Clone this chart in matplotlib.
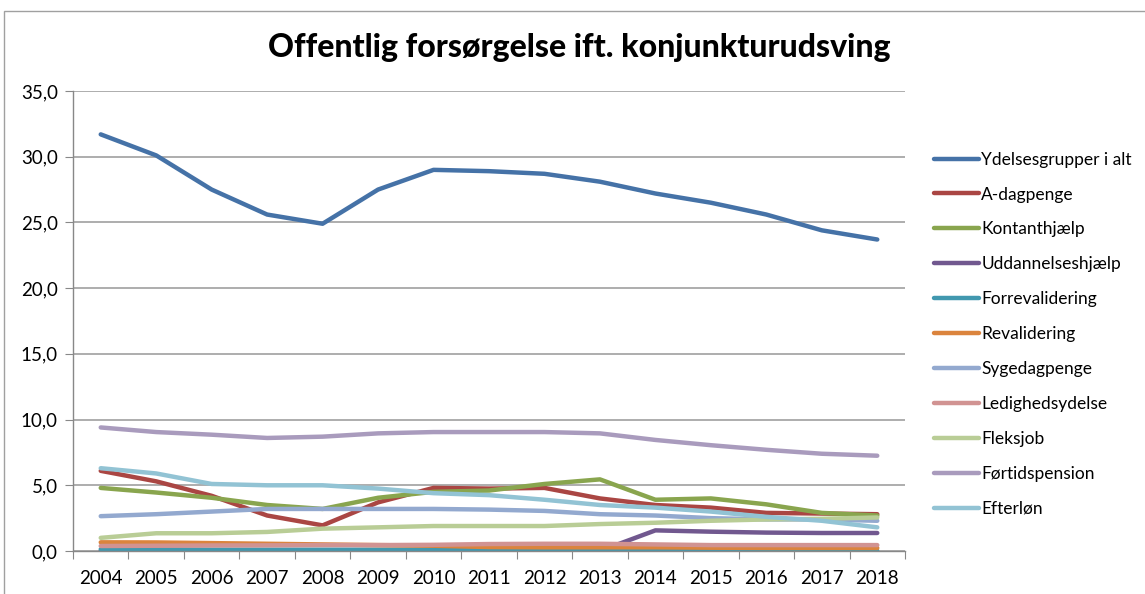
import matplotlib
matplotlib.use("Agg")
import matplotlib.pyplot as plt
from matplotlib.ticker import FuncFormatter, MultipleLocator
from matplotlib.patches import Rectangle

years = [2004, 2005, 2006, 2007, 2008, 2009, 2010, 2011, 2012, 2013, 2014, 2015, 2016, 2017, 2018]

ydelsesgrupper = [31.7, 30.1, 27.5, 25.6, 24.9, 27.5, 29.0, 28.9, 28.7, 28.1, 27.2, 26.5, 25.6, 24.4, 23.7]
a_dagpenge = [6.1, 5.3, 4.2, 2.7, 1.95, 3.7, 4.8, 4.75, 4.8, 4.0, 3.5, 3.3, 2.9, 2.85, 2.8]
kontanthjaelp = [4.8, 4.45, 4.05, 3.5, 3.2, 4.05, 4.5, 4.6, 5.1, 5.45, 3.9, 4.0, 3.55, 2.9, 2.7]
uddannelseshjaelp = [0.0, 0.0, 0.0, 0.0, 0.0, 0.0, 0.0, 0.0, 0.0, 0.0, 1.57, 1.47, 1.4, 1.37, 1.37]
forrevalidering = [0.13, 0.12, 0.1, 0.1, 0.1, 0.1, 0.1, 0.1, 0.1, 0.1, 0.08, 0.03, 0.02, 0.02, 0.02]
revalidering = [0.66, 0.65, 0.6, 0.55, 0.5, 0.45, 0.4, 0.3, 0.28, 0.28, 0.28, 0.25, 0.23, 0.23, 0.23]
sygedagpenge = [2.65, 2.8, 3.0, 3.2, 3.2, 3.2, 3.2, 3.15, 3.05, 2.8, 2.7, 2.5, 2.4, 2.4, 2.3]
ledighedsydelse = [0.38, 0.4, 0.42, 0.43, 0.45, 0.45, 0.47, 0.53, 0.55, 0.55, 0.5, 0.45, 0.45, 0.45, 0.45]
fleksjob = [1.0, 1.35, 1.35, 1.45, 1.7, 1.8, 1.9, 1.9, 1.9, 2.05, 2.15, 2.3, 2.4, 2.45, 2.55]
foertidspension = [9.4, 9.05, 8.85, 8.6, 8.7, 8.95, 9.05, 9.05, 9.05, 8.95, 8.45, 8.05, 7.7, 7.4, 7.25]
efterloen = [6.3, 5.9, 5.1, 5.0, 5.0, 4.75, 4.4, 4.25, 3.9, 3.5, 3.3, 3.0, 2.6, 2.3, 1.8]

series_names = ["Ydelsesgrupper i alt", "A-dagpenge", "Kontanthjælp", "Uddannelseshjælp",
                "Forrevalidering", "Revalidering", "Sygedagpenge", "Ledighedsydelse",
                "Fleksjob", "Førtidspension", "Efterløn"]
series_values = [ydelsesgrupper, a_dagpenge, kontanthjaelp, uddannelseshjaelp, forrevalidering,
                 revalidering, sygedagpenge, ledighedsydelse, fleksjob, foertidspension, efterloen]
colors = ["#4572A7", "#AA4643", "#89A54E", "#71588F", "#4198AF", "#DB843D",
          "#93A9CF", "#D19392", "#B9CD96", "#A99BBD", "#92C3D4"]

title = "Offentlig forsørgelse ift. konjunkturudsving"

plt.rcParams['font.family'] = ['Lato', 'DejaVu Sans']

fig = plt.figure(figsize=(11.45, 5.94), dpi=100)
# chart border
fig.patches.append(Rectangle((4 / 1145, -0.05), 1.1, 1 - 11 / 594 + 0.05, transform=fig.transFigure,
                             fill=False, edgecolor="#A0A0A0", linewidth=1.0))

ax = fig.add_axes([73 / 1145, 43 / 594, (905 - 73) / 1145, (551 - 91) / 594])
x = list(range(len(years)))
for name, vals, c in zip(series_names, series_values, colors):
    ax.plot(x, vals, color=c, linewidth=3.2, label=name, solid_capstyle='round', solid_joinstyle='round')

ax.set_xlim(-0.5, len(years) - 0.5)
ax.set_ylim(0, 35)
ax.yaxis.set_major_locator(MultipleLocator(5))
ax.yaxis.set_major_formatter(FuncFormatter(lambda v, p: f"{v:.1f}".replace(".", ",")))
ax.set_xticks([i - 0.5 for i in range(len(years) + 1)])
ax.set_xticklabels([])
ax.set_xticks(x, minor=True)
ax.set_xticklabels([str(y) for y in years], minor=True, fontsize=13.5)
ax.tick_params(axis='x', which='minor', length=0, pad=14)
ax.tick_params(axis='x', which='major', length=6, color="#888888", direction='out')
ax.tick_params(axis='y', length=6, color="#888888", direction='out', labelsize=13.5, pad=5)
ax.grid(axis='y', color="#A0A0A0", linewidth=1.2)
ax.set_axisbelow(True)
for s in ['top', 'right']:
    ax.spines[s].set_visible(False)
for s in ['left', 'bottom']:
    ax.spines[s].set_color("#888888")
    ax.spines[s].set_linewidth(1.0)

fig.text(579 / 1145, 1 - 48 / 594, title, ha='center', va='center', fontsize=23, fontweight='black')

leg = fig.legend(loc='upper left', bbox_to_anchor=(918 / 1145, 1 - 136 / 594), frameon=False,
                 fontsize=12.5, handlelength=2.6, labelspacing=1.09, handletextpad=0.15)

fig.savefig("out.png", dpi=100)
